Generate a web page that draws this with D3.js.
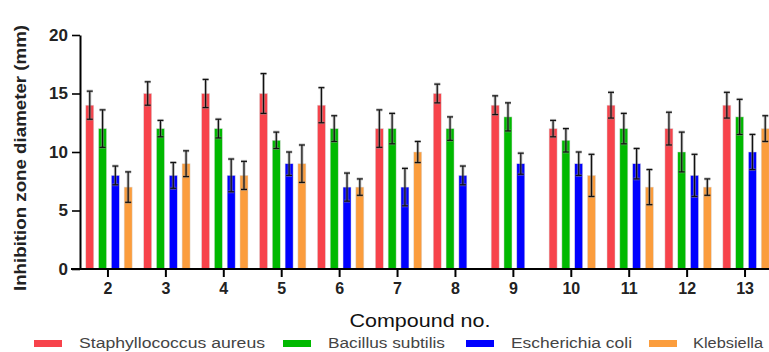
<!DOCTYPE html>
<html>
<head>
<meta charset="utf-8">
<script src="https://cdn.jsdelivr.net/npm/d3@7"></script>
<style>
  html, body { margin: 0; padding: 0; background: #fff; }
  svg { display: block; }
  text { font-family: Arial, "Liberation Sans", sans-serif; }
</style>
</head>
<body>
<svg id="chart" width="769" height="352"></svg>
<script>
const compounds = ["2","3","4","5","6","7","8","9","10","11","12","13"];
const seriesNames = ["Staphyllococcus aureus","Bacillus subtilis","Escherichia coli","Klebsiella"];
const seriesColors = ["#f7434b","#00b900","#0000ff","#fb9d3d"];
const staphValues   = [14, 15, 15, 15, 14, 12, 15, 14, 12, 14, 12, 14];
const staphErrors   = [1.2, 1.0, 1.2, 1.7, 1.5, 1.6, 0.8, 0.8, 0.7, 1.1, 1.4, 1.1];
const bacillusValues= [12, 12, 12, 11, 12, 12, 12, 13, 11, 12, 10, 13];
const bacillusErrors= [1.6, 0.7, 0.8, 0.7, 1.1, 1.3, 1.0, 1.2, 1.0, 1.3, 1.7, 1.5];
const ecoliValues   = [8, 8, 8, 9, 7, 7, 8, 9, 9, 9, 8, 10];
const ecoliErrors   = [0.8, 1.1, 1.4, 1.0, 1.2, 1.6, 0.8, 0.9, 1.0, 1.3, 1.8, 1.5];
const klebValues    = [7, 9, 8, 9, 7, 10, null, null, 8, 7, 7, 12];
const klebErrors    = [1.3, 1.1, 1.2, 1.6, 0.7, 0.9, null, null, 1.8, 1.5, 0.7, 1.1];
const yTicks = [0, 5, 10, 15, 20];

const values = [staphValues, bacillusValues, ecoliValues, klebValues];
const errors = [staphErrors, bacillusErrors, ecoliErrors, klebErrors];

const svg = d3.select("#chart");
const axisX = 80, axisY0 = 269, axisYTop = 35;

const y = d3.scaleLinear().domain([0, 20]).range([axisY0, axisYTop]);
const x0 = d3.scaleBand().domain(compounds).range([79, 774]).padding(0);
const x1 = d3.scaleBand().domain(seriesNames).range([0, 51.2]).paddingInner(0.375).paddingOuter(0.1875);

const rows = [];
compounds.forEach((c, i) => {
  seriesNames.forEach((s, j) => {
    if (values[j][i] != null) rows.push({c, s, j, v: values[j][i], e: errors[j][i]});
  });
});
const bx = d => x0(d.c) + x0.bandwidth() / 2 - 25.6 + 1 + x1(d.s);

// bars
svg.append("g").selectAll("rect").data(rows).join("rect")
  .attr("x", bx)
  .attr("y", d => y(d.v))
  .attr("width", x1.bandwidth())
  .attr("height", d => y(0) - y(d.v))
  .attr("fill", d => seriesColors[d.j])
  .attr("stroke", "rgba(220,220,220,0.8)")
  .attr("stroke-width", 0.6);

// error bars
const eg = svg.append("g");
const drawErr = (stroke, width, opacity) => {
  const g = eg.append("g").attr("stroke", stroke).attr("stroke-width", width).attr("opacity", opacity);
  rows.forEach(d => {
    const cx = bx(d) + x1.bandwidth() / 2;
    g.append("line").attr("x1", cx).attr("x2", cx).attr("y1", y(d.v + d.e)).attr("y2", y(d.v - d.e));
    g.append("line").attr("x1", cx - 3).attr("x2", cx + 3).attr("y1", y(d.v + d.e)).attr("y2", y(d.v + d.e));
    g.append("line").attr("x1", cx - 3).attr("x2", cx + 3).attr("y1", y(d.v - d.e)).attr("y2", y(d.v - d.e));
  });
};
drawErr("#8a8a8a", 3, 0.55);
drawErr("#111", 1.2, 1);

// y axis
const yAxis = svg.append("g").attr("transform", `translate(${axisX},0)`)
  .call(d3.axisLeft(y).tickValues(yTicks).tickSize(8).tickSizeOuter(0).tickPadding(4));
yAxis.select(".domain").attr("stroke", "#000").attr("stroke-width", 2);
yAxis.selectAll(".tick line").attr("stroke", "#000").attr("stroke-width", 1.6);
yAxis.selectAll(".tick text").attr("font-size", 17).attr("font-weight", "bold").attr("fill", "#222")
  .attr("font-family", "Arial, 'Liberation Sans', sans-serif");

// x axis
const xAxis = svg.append("g").attr("transform", `translate(0,${axisY0})`)
  .call(d3.axisBottom(x0).tickSize(8).tickSizeOuter(0).tickPadding(6));
xAxis.select(".domain").attr("stroke", "#000").attr("stroke-width", 2.2).attr("d", "M71,0H774");
xAxis.selectAll(".tick line").attr("stroke", "#000").attr("stroke-width", 2);
xAxis.selectAll(".tick text").attr("font-size", 16).attr("font-weight", "bold").attr("fill", "#222")
  .attr("font-family", "Arial, 'Liberation Sans', sans-serif");

// axis titles
svg.append("text")
  .attr("transform", `translate(26,158) rotate(-90)`)
  .attr("text-anchor", "middle")
  .attr("font-size", 17).attr("font-weight", "bold").attr("fill", "#222")
  .attr("textLength", 266).attr("lengthAdjust", "spacingAndGlyphs")
  .text("Inhibition zone diameter (mm)");

svg.append("text")
  .attr("x", 420).attr("y", 327)
  .attr("text-anchor", "middle")
  .attr("font-size", 19).attr("fill", "#111")
  .attr("textLength", 141).attr("lengthAdjust", "spacingAndGlyphs")
  .text("Compound no.");

// legend
const legendItems = [
  {sx: 34, tx: 79, tw: 186},
  {sx: 283, tx: 328, tw: 117},
  {sx: 466, tx: 511, tw: 121},
  {sx: 649, tx: 693, tw: 70}
];
const lg = svg.append("g");
seriesNames.forEach((s, j) => {
  const it = legendItems[j];
  lg.append("rect").attr("x", it.sx).attr("y", 340).attr("width", 28).attr("height", 7)
    .attr("fill", seriesColors[j]);
  lg.append("text").attr("x", it.tx).attr("y", 348)
    .attr("font-size", 14).attr("fill", "#444")
    .attr("textLength", it.tw).attr("lengthAdjust", "spacingAndGlyphs")
    .text(s);
});
</script>
</body>
</html>
